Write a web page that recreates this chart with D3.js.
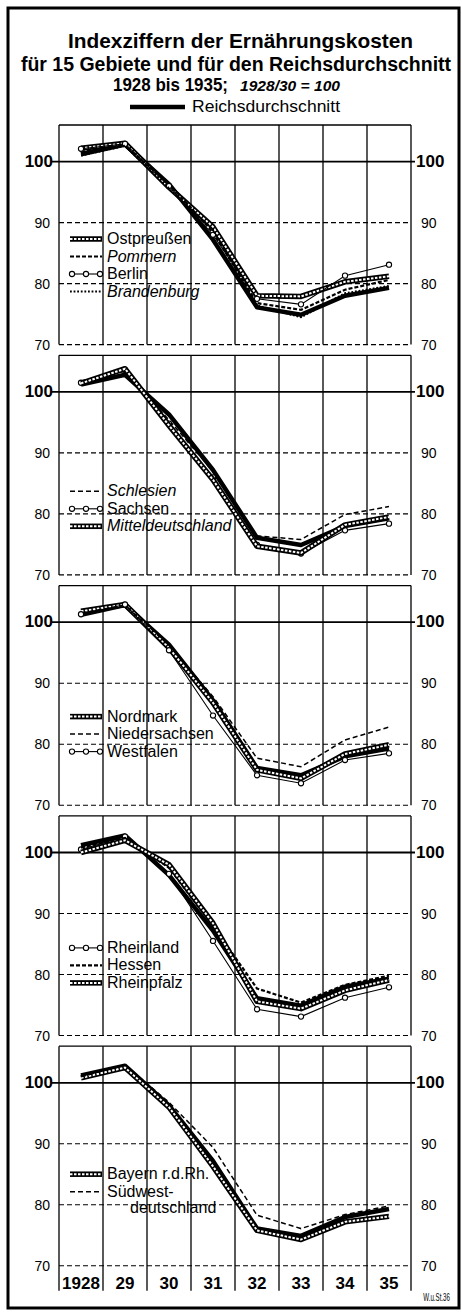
<!DOCTYPE html>
<html>
<head>
<meta charset="utf-8">
<title>Indexziffern der Ernährungskosten</title>
<script src="https://d3js.org/d3.v7.min.js"></script>
<style>
	body { margin: 0; background: #fff; }
	text { font-family: "Liberation Sans", Arial, sans-serif; fill: #000; }
</style>
</head>
<body>
<script>

	// years and tick labels
	var years = [1928, 1929, 1930, 1931, 1932, 1933, 1934, 1935]
	var yearLabels = ["1928", "29", "30", "31", "32", "33", "34", "35"]
	var yTicks = [100, 90, 80, 70]

	// index values, 1928/30 = 100
	var reichsdurchschnitt = [101.2, 102.8, 96.3, 87.2, 76.1, 74.9, 78.0, 79.3]

	var ostpreussen = [102.2, 103.0, 95.8, 89.3, 78.0, 77.9, 80.3, 81.2]
	var pommern     = [101.6, 102.6, 96.4, 88.4, 76.8, 75.7, 79.0, 80.6]
	var berlin      = [102.1, 102.9, 96.0, 88.0, 77.5, 76.6, 81.3, 83.1]
	var brandenburg = [101.0, 102.6, 95.6, 88.8, 76.4, 74.5, 78.4, 79.6]

	var schlesien         = [101.8, 103.4, 95.4, 87.0, 76.4, 75.8, 79.9, 81.2]
	var sachsen           = [101.5, 103.6, 94.8, 86.0, 74.9, 73.5, 77.3, 78.4]
	var mitteldeutschland = [101.4, 103.8, 94.5, 85.6, 74.7, 73.6, 78.2, 79.5]

	var nordmark      = [101.8, 102.9, 95.8, 86.8, 75.8, 74.4, 78.4, 79.9]
	var niedersachsen = [101.5, 102.8, 96.2, 87.8, 77.7, 76.3, 80.7, 82.8]
	var westfalen     = [101.3, 102.9, 95.4, 84.7, 74.9, 73.6, 77.4, 78.5]

	var rheinland  = [100.5, 102.6, 96.5, 85.5, 74.3, 73.1, 76.2, 77.9]
	var hessen     = [100.8, 102.4, 97.5, 88.0, 77.7, 75.4, 78.3, 79.8]
	var rheinpfalz = [100.0, 102.0, 98.0, 88.4, 75.6, 74.4, 77.4, 79.1]

	var bayern   = [100.8, 102.5, 96.0, 86.3, 75.8, 74.3, 77.2, 78.1]
	var suedwest = [101.0, 102.9, 96.8, 89.4, 78.3, 76.1, 78.4, 79.8]

	// which regions go in which panel
	var panelNames = [
		["Ostpreußen", "Pommern", "Berlin", "Brandenburg"],
		["Schlesien", "Sachsen", "Mitteldeutschland"],
		["Nordmark", "Niedersachsen", "Westfalen"],
		["Rheinland", "Hessen", "Rheinpfalz"],
		["Bayern r.d.Rh.", "Südwest-\ndeutschland"]
	]
	var panelValues = [
		[ostpreussen, pommern, berlin, brandenburg],
		[schlesien, sachsen, mitteldeutschland],
		[nordmark, niedersachsen, westfalen],
		[rheinland, hessen, rheinpfalz],
		[bayern, suedwest]
	]
	var panelStyles = [
		["band", "bolddash", "circle", "dot"],
		["dash", "circle", "band"],
		["band", "dash", "circle"],
		["circle", "bolddash", "band"],
		["band", "dash"]
	]
	var panelItalic = [
		[false, true, false, true],
		[true, false, true],
		[false, false, false],
		[false, false, false],
		[false, false]
	]

	// layout
	var W = 462, H = 1314
	var left = 59, right = 411
	var firstTop = 125, panelStep = 230.3, panelH = 219.6
	var legendTop = [114, 136, 131, 132, 128]

	var svg = d3.select("body").append("svg")
		.attr("width", W)
		.attr("height", H)

	// outer frame
	svg.append("rect")
		.attr("x", 8).attr("y", 8)
		.attr("width", 451).attr("height", 1300)
		.attr("fill", "none")
		.attr("stroke", "#000")
		.attr("stroke-width", 3)

	// title
	svg.append("text")
		.attr("x", 68).attr("y", 48)
		.attr("font-size", 21).attr("font-weight", "bold")
		.attr("textLength", 345).attr("lengthAdjust", "spacingAndGlyphs")
		.text("Indexziffern der Ernährungskosten")
	svg.append("text")
		.attr("x", 236).attr("y", 71)
		.attr("text-anchor", "middle")
		.attr("font-size", 19.5).attr("font-weight", "bold")
		.text("für 15 Gebiete und für den Reichsdurchschnitt")
	svg.append("text")
		.attr("x", 113).attr("y", 91)
		.attr("font-size", 18).attr("font-weight", "bold")
		.attr("textLength", 115).attr("lengthAdjust", "spacingAndGlyphs")
		.text("1928 bis 1935;")
	svg.append("text")
		.attr("x", 240).attr("y", 91)
		.attr("font-size", 15).attr("font-weight", "bold").attr("font-style", "italic")
		.attr("textLength", 100).attr("lengthAdjust", "spacingAndGlyphs")
		.text("1928/30 = 100")

	// Reichsdurchschnitt key
	svg.append("line")
		.attr("x1", 130).attr("x2", 185)
		.attr("y1", 107).attr("y2", 107)
		.attr("stroke", "#000").attr("stroke-width", 4.5)
	svg.append("text")
		.attr("x", 192).attr("y", 112)
		.attr("font-size", 17)
		.attr("textLength", 148).attr("lengthAdjust", "spacingAndGlyphs")
		.text("Reichsdurchschnitt")

	var x = d3.scaleBand().domain(years).range([left, right])
	function cx(yr) { return x(yr) + x.bandwidth() / 2 }

	// draws one stroke style along a path (used for lines and legend keys)
	function drawStyled(g, pathD, style, pts) {
		if (style == "band") {
			g.append("path").attr("d", pathD).attr("fill", "none")
				.attr("stroke", "#000").attr("stroke-width", 5.5)
				.attr("stroke-linejoin", "round")
			g.append("path").attr("d", pathD).attr("fill", "none")
				.attr("stroke", "#fff").attr("stroke-width", 2)
				.attr("stroke-dasharray", "2.5,1.5")
		} else if (style == "bolddash") {
			g.append("path").attr("d", pathD).attr("fill", "none")
				.attr("stroke", "#000").attr("stroke-width", 2.2)
				.attr("stroke-dasharray", "4,2")
		} else if (style == "dash") {
			g.append("path").attr("d", pathD).attr("fill", "none")
				.attr("stroke", "#000").attr("stroke-width", 1.5)
				.attr("stroke-dasharray", "5,3")
		} else if (style == "dot") {
			g.append("path").attr("d", pathD).attr("fill", "none")
				.attr("stroke", "#000").attr("stroke-width", 2.2)
				.attr("stroke-dasharray", "1.8,1.8")
		} else if (style == "circle") {
			g.append("path").attr("d", pathD).attr("fill", "none")
				.attr("stroke", "#000").attr("stroke-width", 1.1)
			g.selectAll("circle.pt").data(pts).enter().append("circle")
				.attr("class", "pt")
				.attr("cx", function(d) { return d[0] })
				.attr("cy", function(d) { return d[1] })
				.attr("r", 2.6)
				.attr("fill", "#fff").attr("stroke", "#000").attr("stroke-width", 1.1)
		}
	}

	panelNames.forEach(function(names, i) {
		var top = firstTop + i * panelStep
		var y = d3.scaleLinear().domain([70, 106]).range([top + panelH, top])
		var g = svg.append("g")

		// top border
		g.append("line")
			.attr("x1", left).attr("x2", right)
			.attr("y1", top).attr("y2", top)
			.attr("stroke", "#000").attr("stroke-width", 1.3)

		// vertical grid (columns), run through the label row in the last panel
		var bottomExt = (i == panelNames.length - 1) ? 25 : 0
		g.selectAll("line.v").data(d3.range(years.length + 1)).enter().append("line")
			.attr("class", "v")
			.attr("x1", function(d) { return left + d * x.step() })
			.attr("x2", function(d) { return left + d * x.step() })
			.attr("y1", top)
			.attr("y2", y(70) + bottomExt)
			.attr("stroke", "#000").attr("stroke-width", 1.3)

		// horizontal lines
		g.selectAll("line.h").data(yTicks).enter().append("line")
			.attr("class", "h")
			.attr("x1", function(d) { return d == 100 ? left - 7 : left })
			.attr("x2", function(d) { return d == 100 ? right + 4 : right })
			.attr("y1", function(d) { return y(d) })
			.attr("y2", function(d) { return y(d) })
			.attr("stroke", "#000")
			.attr("stroke-width", function(d) { return d == 100 ? 1.8 : 1.1 })
			.attr("stroke-dasharray", function(d) { return d == 100 ? null : "5,3" })

		// tick labels on both sides
		g.selectAll("text.yl").data(yTicks).enter().append("text")
			.attr("class", "yl")
			.attr("x", function(d) { return d == 100 ? 53 : 50 })
			.attr("y", function(d) { return y(d) + 5 })
			.attr("text-anchor", "end")
			.attr("font-size", function(d) { return d == 100 ? 17 : 14 })
			.attr("font-weight", function(d) { return d == 100 ? "bold" : "normal" })
			.text(function(d) { return d })
		g.selectAll("text.yr").data(yTicks).enter().append("text")
			.attr("class", "yr")
			.attr("x", function(d) { return d == 100 ? 416 : 421 })
			.attr("y", function(d) { return y(d) + 5 })
			.attr("font-size", function(d) { return d == 100 ? 17 : 14 })
			.attr("font-weight", function(d) { return d == 100 ? "bold" : "normal" })
			.text(function(d) { return d })

		var line = d3.line()
			.x(function(d, j) { return cx(years[j]) })
			.y(function(d) { return y(d) })

		// Reichsdurchschnitt first, regions on top
		g.append("path")
			.attr("d", line(reichsdurchschnitt))
			.attr("fill", "none")
			.attr("stroke", "#000").attr("stroke-width", 4.5)
			.attr("stroke-linejoin", "round")

		panelValues[i].forEach(function(vals, k) {
			var pts = vals.map(function(v, j) { return [cx(years[j]), y(v)] })
			drawStyled(g.append("g"), line(vals), panelStyles[i][k], pts)
		})

		// legend
		names.forEach(function(name, k) {
			var ly = top + legendTop[i] + k * 17.5
			var lg = g.append("g")
			var keyD = "M70," + ly + "L102," + ly
			drawStyled(lg, keyD, panelStyles[i][k], [[72, ly], [86, ly], [100, ly]])
			var parts = name.split("\n")
			parts.forEach(function(p, n) {
				lg.append("text")
					.attr("x", n == 0 ? 107 : 130)
					.attr("y", ly + 5 + n * 16)
					.attr("font-size", 16)
					.attr("font-style", panelItalic[i][k] ? "italic" : "normal")
					.text(p)
			})
		})

		// year labels under the last panel
		if (i == panelNames.length - 1) {
			g.selectAll("text.yr2").data(years).enter().append("text")
				.attr("class", "yr2")
				.attr("x", function(d) { return cx(d) })
				.attr("y", y(70) + 23)
				.attr("text-anchor", "middle")
				.attr("font-size", 17).attr("font-weight", "bold")
				.text(function(d, j) { return yearLabels[j] })
		}
	})

	// source note, squeezed into the corner
	svg.append("text")
		.attr("transform", "translate(450,1301) scale(0.62,1)")
		.attr("text-anchor", "end")
		.attr("font-size", 10)
		.text("W.u.St.36")

</script>
</body>
</html>
